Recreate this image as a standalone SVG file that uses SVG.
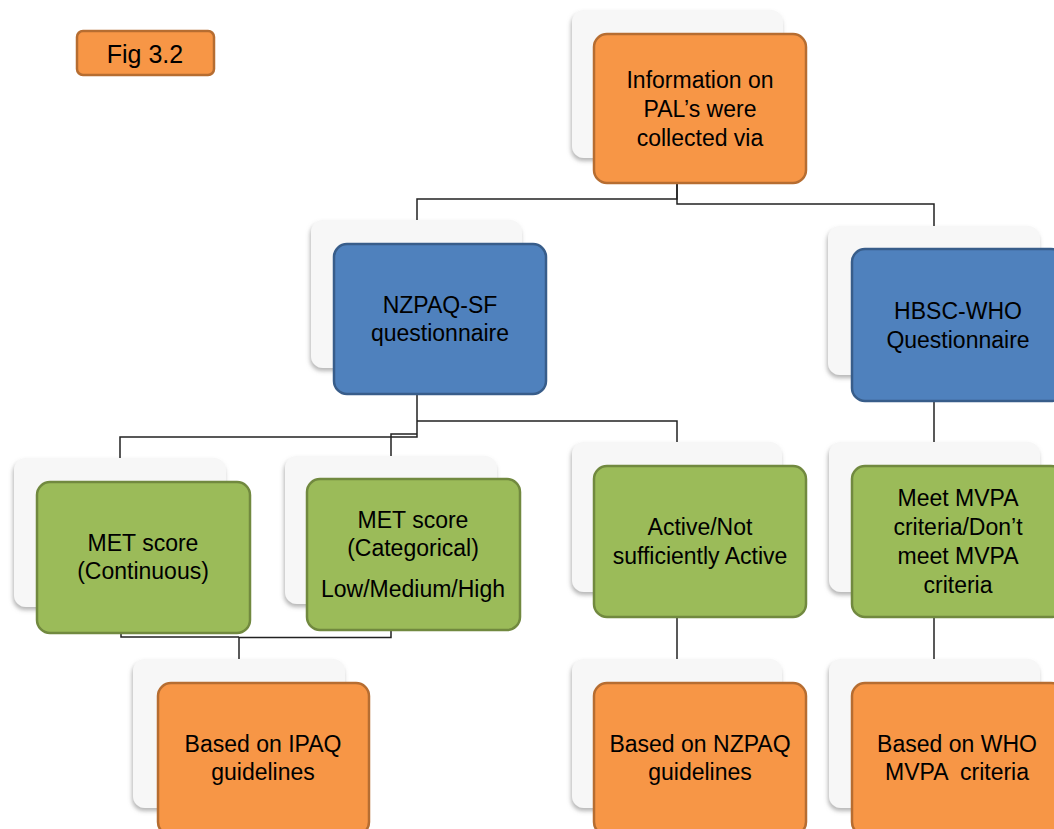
<svg xmlns="http://www.w3.org/2000/svg" width="1054" height="829" viewBox="0 0 1054 829">
<defs>
<filter id="sh" x="-10%" y="-10%" width="120%" height="125%">
<feDropShadow dx="-1" dy="3" stdDeviation="2" flood-color="#777" flood-opacity="0.55"/>
</filter>
<style>
.card{fill:#F7F7F7;filter:url(#sh)}
.org{fill:#F79646;stroke:#B66D31;stroke-width:2.5}
.blu{fill:#4F81BD;stroke:#385D8A;stroke-width:2.5}
.grn{fill:#9BBB59;stroke:#71893F;stroke-width:2.5}
.t{font-family:"Liberation Sans",Arial,sans-serif;font-size:23px;fill:#000;text-anchor:middle;white-space:pre}
.c{fill:none;stroke:#222;stroke-width:1.5}
</style>
</defs>
<rect width="1054" height="829" fill="#fff"/>

<g id="connectors">
<path class="c" d="M417,220 V199 H677 V183"/>
<path class="c" d="M677,183 V204 H934 V226"/>
<path class="c" d="M417,394 V437 H120 V458"/>
<path class="c" d="M417,434 H391 V456"/>
<path class="c" d="M417,421 H677 V442"/>
<path class="c" d="M934,401 V442"/>
<path class="c" d="M121,632 V637 H239"/>
<path class="c" d="M391,630 V637.5 H239"/>
<path class="c" d="M239,637 V659"/>
<path class="c" d="M677,617 V659"/>
<path class="c" d="M934,617 V659"/>
</g>

<g id="fig-label">
<rect x="77" y="31" width="137" height="44" rx="6" class="org"/>
<text class="t" x="145" y="63" style="font-size:25px">Fig 3.2</text>
</g>

<g id="n-top">
<rect class="card" x="572" y="10" width="211" height="148" rx="12"/>
<rect class="org" x="594" y="34" width="212" height="149" rx="13"/>
<text class="t" x="700" y="88">Information on</text>
<text class="t" x="700" y="117">PAL’s were</text>
<text class="t" x="700" y="146">collected via</text>
</g>

<g id="n-nzpaq-sf">
<rect class="card" x="311" y="220" width="211" height="148" rx="12"/>
<rect class="blu" x="334" y="244" width="212" height="150" rx="13"/>
<text class="t" x="440" y="313">NZPAQ-SF</text>
<text class="t" x="440" y="341">questionnaire</text>
</g>

<g id="n-hbsc">
<rect class="card" x="828" y="226" width="212" height="149" rx="12"/>
<rect class="blu" x="852" y="249" width="212" height="152" rx="13"/>
<text class="t" x="958" y="319">HBSC-WHO</text>
<text class="t" x="958" y="348">Questionnaire</text>
</g>

<g id="n-met-cont">
<rect class="card" x="14" y="458" width="212" height="149" rx="12"/>
<rect class="grn" x="37" y="482" width="213" height="151" rx="13"/>
<text class="t" x="143" y="551">MET score</text>
<text class="t" x="143" y="579">(Continuous)</text>
</g>

<g id="n-met-cat">
<rect class="card" x="285" y="456" width="212" height="148" rx="12"/>
<rect class="grn" x="307" y="479" width="213" height="151" rx="13"/>
<text class="t" x="413" y="528">MET score</text>
<text class="t" x="413" y="556">(Categorical)</text>
<text class="t" x="413" y="597">Low/Medium/High</text>
</g>

<g id="n-active">
<rect class="card" x="572" y="442" width="210" height="150" rx="12"/>
<rect class="grn" x="594" y="466" width="212" height="151" rx="13"/>
<text class="t" x="700" y="535">Active/Not</text>
<text class="t" x="700" y="564">sufficiently Active</text>
</g>

<g id="n-meet">
<rect class="card" x="829" y="442" width="211" height="150" rx="12"/>
<rect class="grn" x="852" y="466" width="212" height="151" rx="13"/>
<text class="t" x="958" y="506">Meet MVPA</text>
<text class="t" x="958" y="535">criteria/Don’t</text>
<text class="t" x="958" y="564">meet MVPA</text>
<text class="t" x="958" y="593">criteria</text>
</g>

<g id="n-ipaq">
<rect class="card" x="133" y="659" width="212" height="149" rx="12"/>
<rect class="org" x="158" y="683" width="211" height="152" rx="13"/>
<text class="t" x="263" y="752">Based on IPAQ</text>
<text class="t" x="263" y="780">guidelines</text>
</g>

<g id="n-nzpaq-guide">
<rect class="card" x="572" y="659" width="210" height="149" rx="12"/>
<rect class="org" x="594" y="683" width="212" height="152" rx="13"/>
<text class="t" x="700" y="752">Based on NZPAQ</text>
<text class="t" x="700" y="780">guidelines</text>
</g>

<g id="n-who">
<rect class="card" x="829" y="659" width="211" height="149" rx="12"/>
<rect class="org" x="852" y="683" width="212" height="152" rx="13"/>
<text class="t" x="957" y="752">Based on WHO</text>
<text class="t" x="957" y="780">MVPA  criteria</text>
</g>
</svg>
